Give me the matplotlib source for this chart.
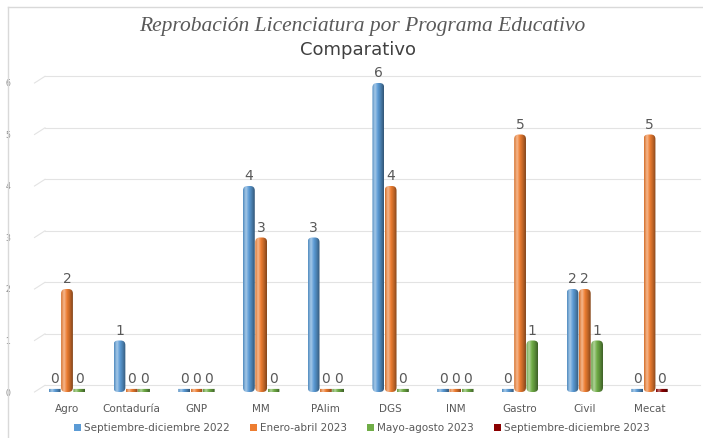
import numpy as np
import matplotlib
matplotlib.use("Agg")
import matplotlib.pyplot as plt
from matplotlib.colors import LinearSegmentedColormap, to_rgb
from matplotlib.patches import Patch, FancyBboxPatch
import matplotlib.transforms as mtransforms

# datos
programas = ["Agro", "Contaduría", "GNP", "MM", "PAlim", "DGS", "INM", "Gastro", "Civil", "Mecat"]
sep_dic_2022 = [0, 1, 0, 4, 3, 6, 0, 0, 2, 0]
ene_abr_2023 = [2, 0, 0, 3, 0, 4, 0, 5, 2, 5]
may_ago_2023 = [0, 0, 0, 0, 0, 0, 0, 1, 1, None]
sep_dic_2023 = [None, None, None, None, None, None, None, None, None, 0]

series = [
    ("Septiembre-diciembre 2022", sep_dic_2022, "#5B9BD5"),
    ("Enero-abril 2023", ene_abr_2023, "#ED7D31"),
    ("Mayo-agosto 2023", may_ago_2023, "#70AD47"),
    ("Septiembre-diciembre 2023", sep_dic_2023, "#8B0000"),
]

gris = "#595959"
fig = plt.figure(figsize=(7.03, 4.38), dpi=100)
ax = fig.add_axes([45 / 703, 1 - 392 / 438, 655 / 703, (392 - 83) / 438])

ancho = 0.19
desplaz = [-ancho, 0, ancho, ancho]  # la cuarta serie ocupa el hueco de la tercera


def cmap_cilindro(c):
    r = np.array(to_rgb(c))
    claro = r + (1 - r) * 0.45
    oscuro = r * 0.55
    return LinearSegmentedColormap.from_list("c", [r * 0.9, claro, r, r * 0.8, oscuro])


ax.set_xlim(-0.34, 9.78)
ax.set_ylim(0, 6)
aspecto = (6 / 309) / (10.12 / 655)

x = np.arange(len(programas))
for i, (nombre, vals, color) in enumerate(series):
    cm = cmap_cilindro(color)
    for j, v in enumerate(vals):
        if v is None:
            continue
        h = v if v > 0 else 0.06
        xc = x[j] + desplaz[i]
        barra = ax.bar(xc, h, width=ancho * 0.96, color="none", zorder=3, linewidth=0)[0]
        x0, y0 = barra.get_xy()
        r = 0.07 if v > 0 else 0.0
        forma = FancyBboxPatch((x0, y0), barra.get_width(), barra.get_height(),
                               boxstyle=f"round,pad=0,rounding_size={r}",
                               mutation_aspect=aspecto, fc="none", ec="none",
                               transform=ax.transData)
        ax.add_patch(forma)
        grad = np.linspace(0, 1, 64).reshape(1, -1)
        im = ax.imshow(grad, extent=[x0, x0 + barra.get_width(), 0, h], aspect="auto",
                       cmap=cm, zorder=4, origin="lower")
        im.set_clip_path(forma)
        ax.text(xc, h + 0.05, str(v), ha="center", va="bottom", fontsize=10,
                color=gris, zorder=5)

ax.set_xlim(-0.34, 9.78)
ax.set_ylim(0, 6)

# rejilla con perspectiva
tr = mtransforms.blended_transform_factory(ax.transAxes, ax.transData)
for y in range(7):
    ax.plot([0, 1], [y + 0.13, y + 0.13], transform=tr, color="#E3E3E3", lw=0.8, zorder=1,
            clip_on=False)
    ax.plot([-0.016, 0], [y, y + 0.13], transform=tr, color="#E3E3E3", lw=0.8, zorder=1,
            clip_on=False)

for s in ax.spines.values():
    s.set_visible(False)
ax.set_xticks(x)
ax.set_xticklabels(programas, fontsize=7.5, color=gris)
ax.set_yticks(range(7))
ax.tick_params(axis="y", labelsize=5.5, labelcolor="#7F7F7F", length=0, pad=25)
ax.tick_params(axis="x", length=0, pad=9)

# titulos
fig.text(362 / 703, 1 - 27 / 438, "Reprobación Licenciatura por Programa Educativo",
         ha="center", va="center", fontsize=15.5, family="Liberation Serif", style="italic",
         color=gris)
fig.text(358 / 703, 1 - 50 / 438, "Comparativo", ha="center", va="center", fontsize=13,
         color="#404040")

# leyenda
manijas = [Patch(facecolor=c, label=n) for n, _, c in series]
fig.legend(handles=manijas, loc="center", bbox_to_anchor=(362 / 703, 1 - 428 / 438), ncol=4,
           frameon=False, fontsize=7.5, labelcolor=gris, handlelength=0.7, handleheight=0.7,
           handletextpad=0.3, columnspacing=1.9)

# marco
fig.add_artist(plt.Line2D([8 / 703, 1], [1 - 7 / 438, 1 - 7 / 438], color="#D9D9D9", lw=1))
fig.add_artist(plt.Line2D([8 / 703, 8 / 703], [0, 1 - 7 / 438], color="#D9D9D9", lw=1))

fig.savefig("out.png", dpi=100)
